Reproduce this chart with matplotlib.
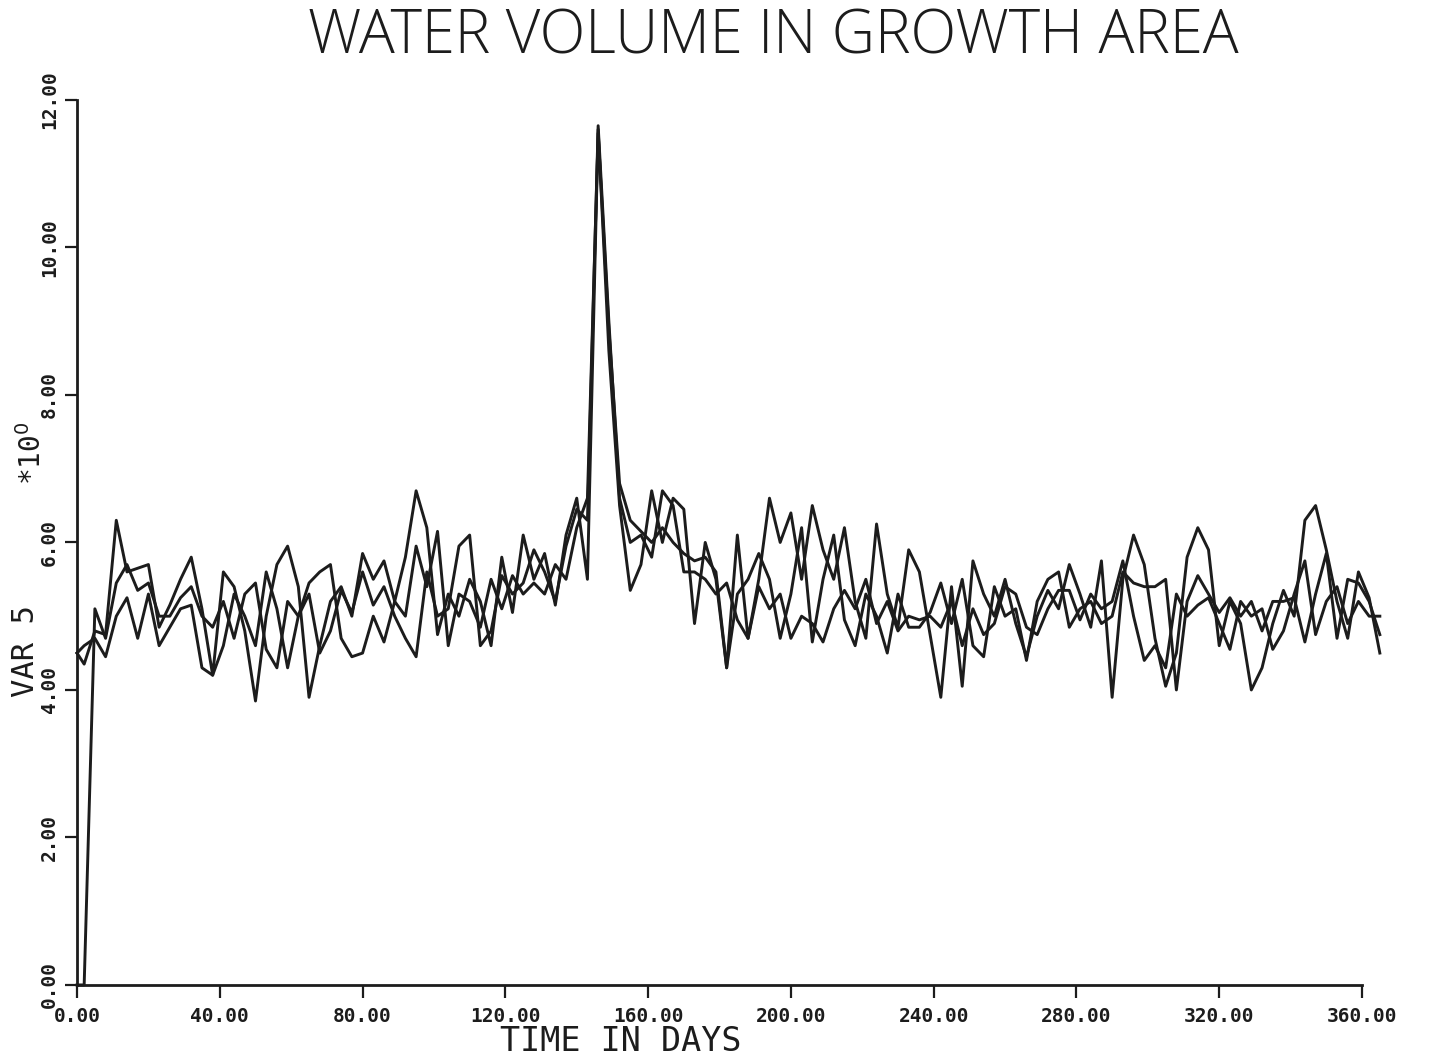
import numpy as np
import matplotlib.pyplot as plt

# ------------------------------------------
# Data read off the plot (three simulation runs, sampled every 3 days)
# ------------------------------------------
days = [0] + list(range(2, 366, 3))

run_1 = [4.5, 4.35, 4.8, 4.75, 6.3, 5.6, 5.65, 5.7, 4.85, 5.15,
         5.5, 5.8, 5.1, 4.2, 5.6, 5.4, 4.8, 3.85, 5.0, 5.7,
         5.95, 5.4, 3.9, 4.6, 5.2, 5.4, 5.0, 5.85, 5.5, 5.75,
         5.2, 5.8, 6.7, 6.2, 4.75, 5.3, 5.0, 5.5, 5.2, 4.6,
         5.8, 5.05, 6.1, 5.5, 5.85, 5.15, 6.1, 6.6, 5.5, 11.6,
         8.6, 6.5, 5.35, 5.7, 6.7, 6.0, 6.6, 6.45, 4.9, 6.0,
         5.5, 4.3, 6.1, 4.7, 5.5, 6.6, 6.0, 6.4, 5.5, 6.5,
         5.9, 5.5, 6.2, 5.2, 4.7, 6.25, 5.3, 4.85, 5.9, 5.6,
         4.75, 3.9, 5.4, 4.05, 5.75, 5.3, 5.0, 5.5, 4.9, 4.45,
         5.0, 5.35, 5.1, 5.7, 5.3, 4.85, 5.75, 3.9, 5.5, 6.1,
         5.7, 4.7, 4.05, 4.5, 5.8, 6.2, 5.9, 4.6, 5.2, 4.9,
         4.0, 4.3, 4.9, 5.35, 5.0, 6.3, 6.5, 5.9, 5.2, 4.7,
         5.6, 5.25, 4.5]

run_2 = [4.5, 4.6, 4.7, 4.45, 5.0, 5.25, 4.7, 5.3, 4.6, 4.85,
         5.1, 5.15, 4.3, 4.2, 4.6, 5.3, 5.0, 4.6, 5.6, 5.1,
         4.3, 5.0, 5.45, 5.6, 5.7, 4.7, 4.45, 4.5, 5.0, 4.65,
         5.2, 5.0, 5.95, 5.4, 6.15, 4.6, 5.3, 5.2, 4.85, 5.5,
         5.1, 5.55, 5.3, 5.45, 5.3, 5.7, 5.5, 6.2, 6.6, 11.55,
         8.9, 6.8, 6.3, 6.15, 6.0, 6.2, 6.0, 5.85, 5.75, 5.8,
         5.6, 4.3, 5.3, 5.5, 5.85, 5.5, 4.7, 5.3, 6.2, 4.65,
         5.5, 6.1, 4.95, 4.6, 5.3, 5.0, 4.5, 5.3, 4.85, 4.85,
         5.05, 5.45, 4.9, 5.5, 4.6, 4.45, 5.4, 5.0, 5.1, 4.4,
         5.2, 5.5, 5.6, 4.85, 5.1, 5.2, 4.9, 5.0, 5.6, 5.45,
         5.4, 5.4, 5.5, 4.0, 5.2, 5.55, 5.3, 5.05, 5.25, 5.0,
         5.2, 4.8, 5.2, 5.2, 5.25, 4.65, 5.3, 5.85, 4.7, 5.5,
         5.45, 5.2, 4.75]

run_3 = [0.0, 0.0, 5.1, 4.7, 5.45, 5.7, 5.35, 5.45, 5.0, 5.0,
         5.25, 5.4, 5.0, 4.85, 5.2, 4.7, 5.3, 5.45, 4.55, 4.3,
         5.2, 5.0, 5.3, 4.5, 4.8, 5.35, 5.05, 5.6, 5.15, 5.4,
         5.0, 4.7, 4.45, 5.6, 5.0, 5.1, 5.95, 6.1, 4.6, 4.8,
         5.55, 5.3, 5.45, 5.9, 5.6, 5.2, 5.95, 6.45, 6.3, 11.65,
         9.0, 6.6, 6.0, 6.1, 5.8, 6.7, 6.5, 5.6, 5.6, 5.5,
         5.3, 5.45, 4.95, 4.7, 5.4, 5.1, 5.3, 4.7, 5.0, 4.9,
         4.65, 5.1, 5.35, 5.1, 5.5, 4.9, 5.2, 4.8, 5.0, 4.95,
         5.0, 4.85, 5.2, 4.6, 5.1, 4.75, 4.9, 5.4, 5.3, 4.85,
         4.75, 5.1, 5.35, 5.35, 4.95, 5.3, 5.1, 5.2, 5.75, 5.0,
         4.4, 4.6, 4.3, 5.3, 5.0, 5.15, 5.25, 4.9, 4.55, 5.2,
         5.0, 5.1, 4.55, 4.8, 5.3, 5.75, 4.75, 5.2, 5.4, 4.9,
         5.2, 5.0, 5.0]

x_ticks = [0, 40, 80, 120, 160, 200, 240, 280, 320, 360]
y_ticks = [0, 2, 4, 6, 8, 10, 12]

INK = '#1c1c1c'
MONO = 'DejaVu Sans Mono'

# ------------------------------------------
# Figure
# ------------------------------------------
fig = plt.figure(figsize=(14.37, 10.55), dpi=100)
ax = fig.add_axes([0.0536, 0.0664, 0.8942, 0.8389])

for run in (run_1, run_2, run_3):
    ax.plot(days, run, color=INK, linewidth=2.1, clip_on=False)

ax.set_xlim(0, 360)
ax.set_ylim(0, 12)

for side in ('top', 'right'):
    ax.spines[side].set_visible(False)
for side in ('left', 'bottom'):
    ax.spines[side].set_linewidth(2.0)
    ax.spines[side].set_color(INK)

ax.set_xticks(x_ticks)
ax.set_xticklabels([f"{v:.2f}" for v in x_ticks], family=MONO,
                   fontweight='bold', fontsize=14)
ax.set_yticks(y_ticks)
ax.set_yticklabels([f"{v:.2f}" for v in y_ticks], family=MONO,
                   fontweight='bold', fontsize=14, rotation=90, va='center')
ax.tick_params(axis='both', direction='out', length=9, width=1.6,
               color=INK, labelcolor=INK)
ax.tick_params(axis='x', pad=7)
ax.tick_params(axis='y', pad=4)

# axis titles
fig.text(0.432, 0.013, "TIME IN DAYS", family=MONO, fontsize=24,
         color=INK, ha='center', va='center')
fig.text(0.018, 0.383, "VAR 5", family=MONO, fontsize=22, color=INK,
         rotation=90, ha='center', va='center')
fig.text(0.022, 0.570, r"*10$^{0}$", family=MONO, fontsize=20, color=INK,
         rotation=90, ha='center', va='center')

fig.text(0.538, 0.964, "WATER VOLUME IN GROWTH AREA", family='Open Sans',
         fontweight='light', fontsize=43, color=INK, ha='center', va='center')

fig.savefig('out.png', dpi=100)
